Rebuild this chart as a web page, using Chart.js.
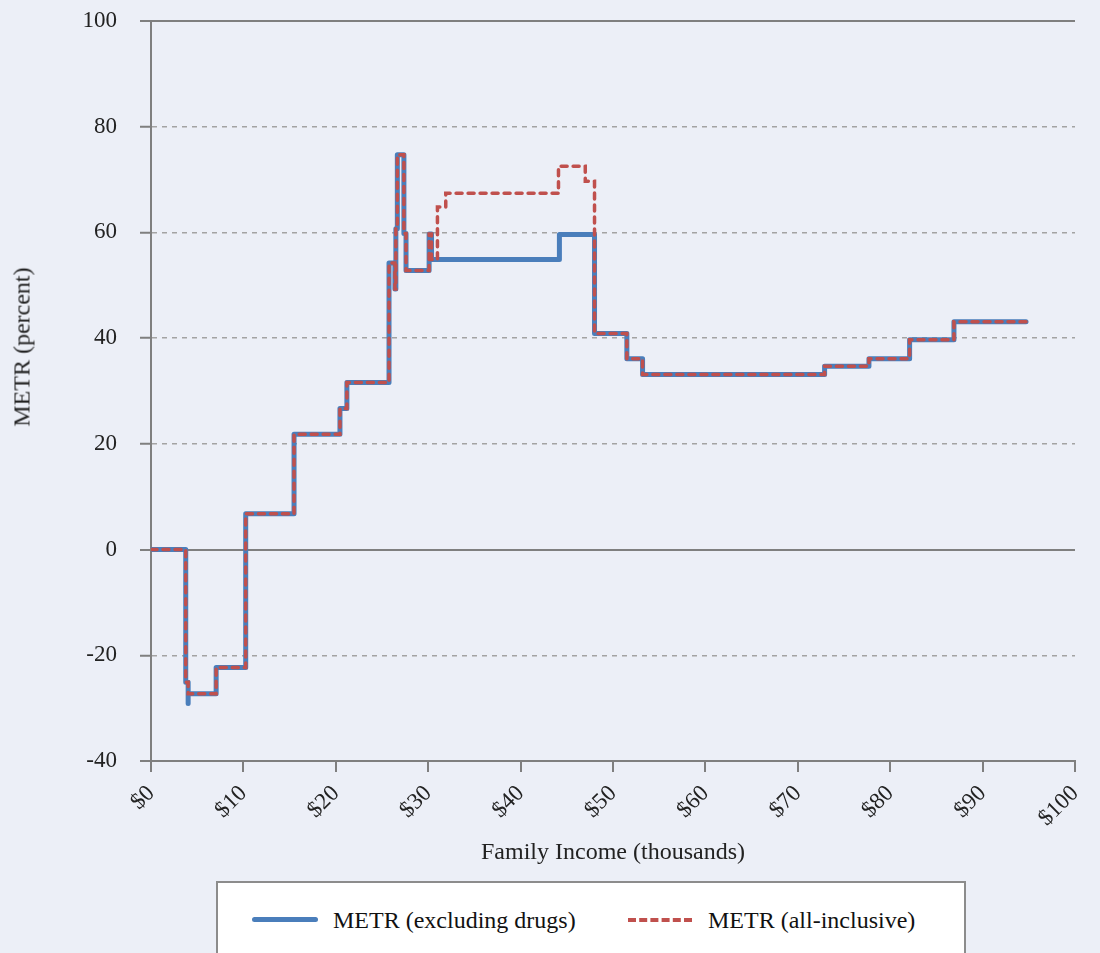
<!DOCTYPE html>
<html>
<head>
<meta charset="utf-8">
<script src="https://cdn.jsdelivr.net/npm/chart.js@4.4.1/dist/chart.umd.min.js"></script>
<style>
  html, body { margin: 0; padding: 0; background: #ECEFF7; }
  #wrap { position: relative; width: 1100px; height: 953px; overflow: hidden; }
  #legend {
    position: absolute; left: 216px; top: 881px; width: 746px; height: 100px;
    background: #fff; border: 2px solid #8c8c8c;
    font-family: "Liberation Serif", "DejaVu Serif", serif; font-size: 24px; color: #111;
  }
  .item { position: absolute; top: 22px; height: 30px; line-height: 30px; white-space: nowrap; }
  .swatch { position: absolute; }
  #tituloY {
    position: absolute; left: 22px; top: 347px; white-space: nowrap;
    transform: translate(-50%, -50%) rotate(-90deg);
    font-family: "Liberation Serif", "DejaVu Serif", serif; font-size: 24px; color: #222;
  }
</style>
</head>
<body>
<div id="wrap">
  <canvas id="grafico" width="1100" height="953"></canvas>
  <div id="tituloY">METR (percent)</div>
  <div id="legend">
    <div class="swatch" style="left:34px;top:34px;width:66px;border-top:5px solid #4A7EBB;border-radius:3px;"></div>
    <div class="item" style="left:115px;">METR (excluding drugs)</div>
    <div class="swatch" style="left:410px;top:35px;width:64px;border-top:4px dashed #C0504D;"></div>
    <div class="item" style="left:490px;">METR (all-inclusive)</div>
  </div>
</div>
<script>
// valores (renda em milhares, METR em %)
// cada ponto marca o início de um degrau
const rendaExcl = [0, 3.76, 4.02, 4.02, 7.05, 10.25, 15.48, 20.45, 21.2, 25.76, 26.4, 26.5, 26.66, 27.37, 27.6, 30.1, 30.36, 44.2, 48.0, 51.5, 53.2, 72.9, 77.7, 82.1, 86.9, 94.7];
const metrExcl  = [0, -25.1, -29.1, -27.3, -22.3, 6.8, 21.8, 26.7, 31.6, 54.2, 49.3, 60.7, 74.7, 59.8, 52.8, 59.7, 54.9, 59.6, 40.9, 36.1, 33.1, 34.7, 36.1, 39.7, 43.1, 43.1];

const rendaAll = [0, 3.76, 4.02, 7.05, 10.25, 15.48, 20.45, 21.2, 25.76, 26.4, 26.5, 26.66, 27.37, 27.6, 30.1, 30.36, 31.0, 31.9, 44.1, 47.0, 48.0, 51.5, 53.2, 72.9, 77.7, 82.1, 86.9, 94.7];
const metrAll  = [0, -25.1, -27.3, -22.3, 6.8, 21.8, 26.7, 31.6, 54.2, 49.3, 60.7, 74.7, 59.8, 52.8, 59.7, 54.9, 64.8, 67.4, 72.5, 69.7, 40.9, 36.1, 33.1, 34.7, 36.1, 39.7, 43.1, 43.1];

const yTicks = [-40, -20, 0, 20, 40, 60, 80, 100];
const xTicks = [0, 10, 20, 30, 40, 50, 60, 70, 80, 90, 100];

const pontos = (xs, ys) => xs.map((x, i) => ({ x: x, y: ys[i] }));

const fonte = "'Liberation Serif', 'DejaVu Serif', serif";
const solidas = [0, 100, -40];

const ctx = document.getElementById('grafico');

new Chart(ctx, {
    type: 'line',
    data: {
        datasets: [{
            label: 'METR (excluding drugs)',
            data: pontos(rendaExcl, metrExcl),
            borderColor: '#4A7EBB',
            borderWidth: 5,
            stepped: true,
            pointRadius: 0,
            borderJoinStyle: 'round',
            borderCapStyle: 'round',
            order: 2
        }, {
            label: 'METR (all-inclusive)',
            data: pontos(rendaAll, metrAll),
            borderColor: '#C0504D',
            borderWidth: 3.5,
            borderDash: [6, 6],
            borderCapStyle: 'round',
            stepped: true,
            pointRadius: 0,
            order: 1
        }]
    },
    options: {
        responsive: false,
        animation: false,
        events: [],
        layout: { padding: { top: 21, right: 25, bottom: 82, left: 0 } },
        plugins: {
            legend: { display: false },
            tooltip: { enabled: false }
        },
        scales: {
            x: {
                type: 'linear',
                min: 0,
                max: 100,
                afterBuildTicks: s => { s.ticks = xTicks.map(v => ({ value: v })); },
                afterFit: s => { s.height = 110; s.paddingLeft = 0; s.paddingRight = 0; },
                ticks: {
                    minRotation: 45,
                    maxRotation: 45,
                    padding: 8,
                    color: '#222',
                    font: { family: fonte, size: 23 },
                    callback: v => '$' + v
                },
                grid: {
                    drawOnChartArea: false,
                    tickLength: 11,
                    color: '#7f7f7f',
                    lineWidth: 2
                },
                border: { color: '#7f7f7f', width: 2 },
                title: {
                    display: true,
                    text: 'Family Income (thousands)',
                    color: '#222',
                    font: { family: fonte, size: 24 },
                    padding: { top: 4, bottom: 4 }
                }
            },
            y: {
                min: -40,
                max: 100,
                afterBuildTicks: s => { s.ticks = yTicks.map(v => ({ value: v })); },
                afterFit: s => { s.width = 151; s.paddingTop = 0; s.paddingBottom = 0; },
                ticks: {
                    padding: 23,
                    color: '#222',
                    font: { family: fonte, size: 23 }
                },
                grid: {
                    tickLength: 11,
                    color: c => (c.tick && solidas.includes(c.tick.value)) ? '#7f7f7f' : '#a3a3a3',
                    lineWidth: c => (c.tick && solidas.includes(c.tick.value)) ? 2 : 1.5,
                    tickColor: '#7f7f7f',
                    tickWidth: 2
                },
                border: {
                    color: '#7f7f7f',
                    width: 2,
                    dash: c => (c.tick && !solidas.includes(c.tick.value)) ? [5, 5] : []
                }
            }
        }
    }
});
</script>
</body>
</html>
